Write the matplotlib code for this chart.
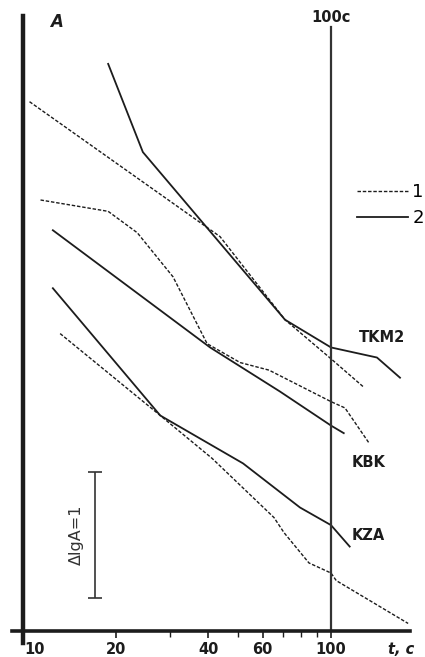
import matplotlib
matplotlib.use("Agg")
import matplotlib.pyplot as plt
from matplotlib.lines import Line2D
from matplotlib.transforms import ScaledTranslation

plt.rcParams["font.family"] = ["DejaVu Sans"]

# затухание амплитуды lgA(t): 1 - пунктир, 2 - сплошная
tkm2_t1 = [10.5, 43.6, 70.9, 100, 127]
tkm2_a1 = [4.20, 3.13, 2.47, 2.16, 1.94]
tkm2_t2 = [18.9, 24.5, 70.9, 100, 141, 167.5]
tkm2_a2 = [4.50, 3.80, 2.47, 2.25, 2.17, 2.01]

kbk_t1 = [11.4, 18.9, 23.5, 30.7, 39.6, 50.7, 62.9, 100, 111, 133]
kbk_a1 = [3.42, 3.33, 3.16, 2.81, 2.28, 2.13, 2.07, 1.82, 1.77, 1.49]
kbk_t2 = [12.5, 40.5, 68.3, 100, 110]
kbk_a2 = [3.18, 2.25, 1.90, 1.63, 1.57]

kza_t1 = [13.2, 27.9, 41.1, 65.3, 70.4, 84.8, 100, 104, 178]
kza_a1 = [2.36, 1.71, 1.37, 0.90, 0.78, 0.54, 0.46, 0.40, 0.06]
kza_t2 = [12.5, 27.9, 51.8, 79.3, 100, 115]
kza_a2 = [2.72, 1.71, 1.33, 0.98, 0.84, 0.67]

stations = ["TKM2", "KBK", "KZA"]
station_lab_t = [123, 117, 117]
station_lab_a = [2.33, 1.34, 0.76]

xticks = [10, 20, 40, 60, 100]
xminor = [30, 50, 70, 80, 90]
scale_t = 17.1
scale_a = [0.26, 1.26]

INK = "#1c1c1c"
DASH = (0, (2.5, 1.3))

fig = plt.figure(figsize=(4.25, 6.57), dpi=100)
ax = fig.add_axes([12 / 425, 26 / 657, 398 / 425, 615 / 657])
ax.set_xscale("log")
ax.set_xlim(9.21, 180.5)
ax.set_ylim(0, 4.88)

for t, a in [(tkm2_t1, tkm2_a1), (kbk_t1, kbk_a1), (kza_t1, kza_a1)]:
    ax.plot(t, a, color=INK, lw=1.0, ls=DASH)
for t, a in [(tkm2_t2, tkm2_a2), (kbk_t2, kbk_a2), (kza_t2, kza_a2)]:
    ax.plot(t, a, color=INK, lw=1.3)

for name, t, a in zip(stations, station_lab_t, station_lab_a):
    ax.text(t, a, name, fontsize=10.5, fontweight="bold", color=INK,
            ha="left", va="center")

# ось lgA и отметка 100 c
ax.axvline(10, ymin=-0.02, ymax=1.0, clip_on=False, color=INK, lw=3.2)
ax.axvline(100, ymin=0, ymax=0.982, color="#333333", lw=1.6)
ax.text(100, 0.998, "100c", transform=ax.get_xaxis_transform(),
        fontsize=10.5, fontweight="bold", ha="center", va="center", color=INK)
ax.text(12.8, 0.99, "A", transform=ax.get_xaxis_transform(),
        fontsize=12, fontweight="bold", style="italic", ha="center", va="center",
        color=INK)

# масштаб ΔlgA = 1
ax.errorbar([scale_t], [sum(scale_a) / 2], yerr=[[0.5], [0.5]], color="#333333",
            lw=1.2, capsize=4.7, capthick=1.2)
ax.text(14.9, sum(scale_a) / 2, "ΔlgA=1", rotation=90, fontsize=11.5,
        ha="center", va="center", color="#333333")

for s in ["left", "right", "top"]:
    ax.spines[s].set_visible(False)
ax.spines["bottom"].set_linewidth(2.6)
ax.spines["bottom"].set_color(INK)
ax.set_yticks([])
ax.set_xticks(xticks)
ax.set_xticklabels([str(v) for v in xticks], fontweight="bold", fontsize=10.5)
ax.set_xticks(xminor, minor=True)
ax.set_xticklabels([], minor=True)
ax.tick_params(axis="x", which="major", length=5, width=1.2, pad=3, colors=INK)
ax.tick_params(axis="x", which="minor", length=4, width=1.0, colors=INK)
# подпись "10" сдвинута вправо от оси
lab10 = ax.get_xticklabels()[0]
lab10.set_transform(lab10.get_transform() + ScaledTranslation(0.12, 0, fig.dpi_scale_trans))

ax.set_xlabel("t, c", fontsize=10.5, fontweight="bold", style="italic", color=INK)
ax.xaxis.set_label_coords(0.977, -0.030)
ax.xaxis.label.set_va("center")

handles = [Line2D([], [], color=INK, lw=1.0, ls=DASH),
           Line2D([], [], color=INK, lw=1.3)]
ax.legend(handles, ["1", "2"], loc="upper left", bbox_to_anchor=(0.867, 0.728),
          frameon=False, handlelength=2.8, handletextpad=0.25, labelspacing=0.44,
          borderpad=0, borderaxespad=0, fontsize=13)

fig.savefig("out.png", dpi=100)
